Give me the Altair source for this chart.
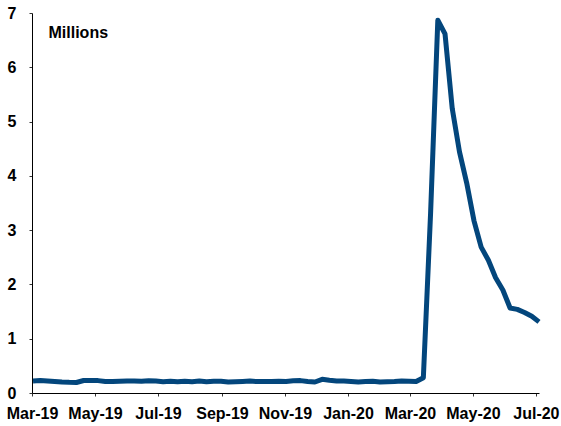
import altair as alt
import pandas as pd

# Weekly initial jobless claims (seasonally adjusted), millions, week ending Saturday
week_start = "2019-03-02"
week_end = "2020-07-04"
claims = [
    0.223, 0.230, 0.221, 0.212, 0.202, 0.196, 0.193, 0.230, 0.230, 0.228,
    0.212, 0.211, 0.215, 0.219, 0.222, 0.216, 0.227, 0.221, 0.209, 0.216,
    0.206, 0.217, 0.209, 0.220, 0.209, 0.215, 0.217, 0.204, 0.208, 0.213,
    0.219, 0.210, 0.214, 0.212, 0.218, 0.211, 0.225, 0.228, 0.213, 0.203,
    0.252, 0.235, 0.222, 0.220, 0.214, 0.204, 0.211, 0.216, 0.202, 0.205,
    0.210, 0.219, 0.216, 0.211, 0.282, 3.307, 6.867, 6.615, 5.237, 4.442,
    3.867, 3.176, 2.687, 2.446, 2.123, 1.897, 1.566, 1.540, 1.482, 1.413,
    1.310,
]
tick_months = [
    "2019-03-01", "2019-05-01", "2019-07-01", "2019-09-01", "2019-11-01",
    "2020-01-01", "2020-03-01", "2020-05-01", "2020-07-01",
]
y_ticks = [0, 1, 2, 3, 4, 5, 6, 7]

weeks = pd.date_range(week_start, week_end, freq="7D")
df = pd.DataFrame({"week": weeks, "claims": claims})

FONT = "Liberation Sans"

x_ticks = [
    alt.DateTime(year=int(d[:4]), month=int(d[5:7]), date=1) for d in tick_months
]

line = (
    alt.Chart(df)
    .mark_line(color="#03467c", strokeWidth=5, strokeJoin="round")
    .encode(
        x=alt.X(
            "week:T",
            scale=alt.Scale(
                domain=[
                    alt.DateTime(year=2019, month=3, date=1),
                    alt.DateTime(year=2020, month=7, date=4),
                ]
            ),
            axis=alt.Axis(
                values=x_ticks,
                format="%b-%y",
                title=None,
                grid=False,
                domainColor="black",
                tickColor="#333333",
                tickSize=3,
                labelPadding=9,
                labelFont=FONT,
                labelFontSize=16,
                labelFontWeight="bold",
                labelColor="black",
                labelOverlap=False,
                labelFlush=False,
            ),
        ),
        y=alt.Y(
            "claims:Q",
            scale=alt.Scale(domain=[0, 7], nice=False),
            axis=alt.Axis(
                values=y_ticks,
                title="Millions",
                titleAngle=0,
                titleX=16,
                titleY=24,
                titleAlign="left",
                titleBaseline="alphabetic",
                titleFont=FONT,
                titleFontSize=16,
                titleFontWeight="bold",
                titleColor="black",
                grid=False,
                domainColor="black",
                tickColor="#333333",
                tickSize=3,
                labelPadding=13,
                labelFont=FONT,
                labelFontSize=16,
                labelFontWeight="bold",
                labelColor="black",
            ),
        ),
    )
)

chart = (
    line.properties(
        width=507,
        height=380,
        autosize=alt.AutoSizeParams(type="none"),
        padding={"left": 32, "top": 13, "right": 22, "bottom": 33},
        background="white",
    )
    .configure_view(stroke=None)
)

chart.save("out.html", embed_options={"renderer": "svg", "actions": False})
